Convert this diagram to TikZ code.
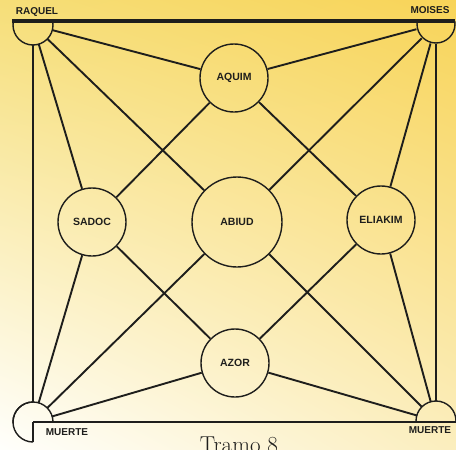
\documentclass[tikz,border=0pt]{standalone}
\usepackage{fontspec}
\usetikzlibrary{shadings}
\newfontfamily\labfont{Liberation Sans}
\definecolor{bgtl}{RGB}{246,222,120}
\definecolor{bgtr}{RGB}{248,212,88}
\definecolor{bgbl}{RGB}{255,255,252}
\definecolor{bgbr}{RGB}{251,238,190}
\definecolor{ink}{RGB}{30,30,28}
\begin{document}
\begin{tikzpicture}[x=1pt,y=-1pt,
  person/.style={circle,draw=ink,line width=1.4pt,inner sep=0pt,minimum size=68pt,
    font=\labfont\bfseries\fontsize{10.5}{12}\selectfont,text=ink},
  big/.style={person,minimum size=90pt},
  corner/.style={circle,draw=none,inner sep=0pt,minimum size=40pt},
  arcline/.style={draw=ink,line width=1.4pt},
  conn/.style={draw=ink,line width=1.9pt},
  tag/.style={font=\labfont\bfseries\fontsize{10}{11}\selectfont,text=ink,inner sep=0pt}]
\useasboundingbox (0,0) rectangle (456,450);
\shade[upper left=bgtl,upper right=bgtr,lower left=bgbl,lower right=bgbr] (0,0) rectangle (456,450);
% corner anchors
\node[corner] (tl) at (33,25) {};
\node[corner] (tr) at (436,24) {};
\node[corner] (bl) at (33,422) {};
\node[corner] (br) at (436,421) {};
% main nodes
\node[person] (aquim) at (234,78) {AQUIM};
\node[person] (sadoc) at (92,222) {SADOC};
\node[big] (abiud) at (237,222) {ABIUD};
\node[person] (eliakim) at (381,220) {ELIAKIM};
\node[person] (azor) at (235,363) {AZOR};
% top and bottom lines
\draw[draw=ink,line width=3.6pt] (12,21) -- (455,21);
\draw[draw=ink,line width=1.6pt] (bl.center) -- (456,422);
\draw[draw=ink,line width=1.6pt] (bl.center) -- (bl.south);
% corner arcs
\begin{scope}
  \clip (0,21) rectangle (456,120);
  \draw[arcline] (tl.center) circle[radius=20pt];
  \draw[arcline] (tr.center) circle[radius=19pt];
\end{scope}
\begin{scope}
  \clip (300,300) rectangle (456,421);
  \draw[arcline] (br.center) circle[radius=20pt];
\end{scope}
\begin{scope}
  \clip (0,300) rectangle (33,460);
  \draw[arcline] (bl.center) circle[radius=20pt];
\end{scope}
\begin{scope}
  \clip (0,300) rectangle (100,422);
  \draw[arcline] (bl.center) circle[radius=20pt];
\end{scope}
% connectors
\draw[conn] (tl) -- (aquim);
\draw[conn] (tl) -- (abiud);
\draw[conn] (tl) -- (sadoc);
\draw[conn] (tl) -- (bl);
\draw[conn] (tr) -- (aquim);
\draw[conn] (tr) -- (abiud);
\draw[conn] (tr) -- (eliakim);
\draw[conn] (tr) -- (br);
\draw[conn] (bl) -- (sadoc);
\draw[conn] (bl) -- (abiud);
\draw[conn] (bl) -- (azor);
\draw[conn] (br) -- (azor);
\draw[conn] (br) -- (abiud);
\draw[conn] (br) -- (eliakim);
\draw[conn] (aquim) -- (sadoc);
\draw[conn] (aquim) -- (eliakim);
\draw[conn] (sadoc) -- (azor);
\draw[conn] (eliakim) -- (azor);
% labels
\node[tag] (lraquel) at (37,12) {RAQUEL};
\node[tag] (lmoises) at (430,10) {MOISES};
\node[tag] (lmuerte1) at (67,432) {MUERTE};
\node[tag] (lmuerte2) at (430,430) {MUERTE};
\node[anchor=base,inner sep=0pt,font=\fontsize{23}{25}\selectfont,text=ink] (tramo) at (239,452) {Tramo 8};
\end{tikzpicture}
\end{document}
